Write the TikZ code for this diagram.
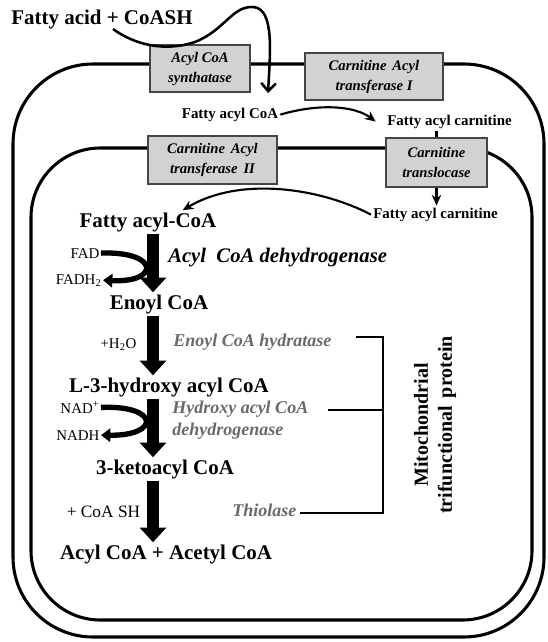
\documentclass[tikz,border=0pt]{standalone}
\usepackage{fontspec}
\setmainfont{Liberation Serif}
\usetikzlibrary{arrows.meta}
\definecolor{enzgray}{RGB}{105,105,105}
\definecolor{boxfill}{RGB}{210,210,210}
\definecolor{boxline}{RGB}{70,70,70}
\begin{document}
\begin{tikzpicture}[x=0.75pt,y=0.75pt,yscale=-1,xscale=1,
	membrane/.style={line width=2.3pt},
	enzbox/.style={draw=boxline,fill=boxfill,line width=1.1pt,align=center,inner sep=0pt,font=\fontsize{11}{15}\selectfont\bfseries\itshape},
	metab/.style={font=\fontsize{15.7}{18}\selectfont\bfseries,inner sep=1.5pt},
	smallmetab/.style={font=\fontsize{11.2}{13}\selectfont\bfseries,inner sep=1.5pt},
	cofac/.style={font=\fontsize{11.2}{13}\selectfont,inner sep=1pt},
	enz/.style={font=\fontsize{13.5}{16.5}\selectfont\bfseries\itshape,text=enzgray,inner sep=0pt,align=left},
	flow/.style={line width=1.6pt,-{Stealth[length=8pt,width=7pt]}},
	bigstep/.style={line width=9pt,-{Triangle[length=11pt,width=19.5pt]}},
	redox/.style={line width=4pt,-{Triangle[length=7pt,width=10pt]}},
	bracket/.style={line width=1.6pt}]
	\useasboundingbox (0,0) rectangle (547,642);
	\draw[membrane,rounded corners=60pt] (13,64) rectangle (544,637);
	\draw[membrane,rounded corners=52pt] (31,148) rectangle (532,620);
	\draw (102,19) node[metab] (substr) {Fatty acid + CoASH};
	\coordinate (plus) at (113,29);
	\coordinate (synthout) at (268,93);
	\coordinate (ax) at (153,0);
	\draw (200,68.5) node[enzbox,minimum width=75pt,minimum height=35.25pt] (synth) {Acyl CoA\\synthatase};
	\draw (374,76.5) node[enzbox,minimum width=103.5pt,minimum height=35.25pt] (cat1) {Carnitine\hspace{0.4em}Acyl\\transferase I};
	\draw (212.5,160) node[enzbox,minimum width=96.75pt,minimum height=36pt] (cat2) {Carnitine\hspace{0.4em}Acyl\\transferase\hspace{0.4em}II};
	\draw (436.5,162.5) node[enzbox,minimum width=75.75pt,minimum height=36.75pt] (trans) {Carnitine\\translocase};
	\draw (230,114.6) node[smallmetab] (fac) {Fatty acyl CoA};
	\draw (449.5,121.6) node[smallmetab] (ucarn) {Fatty acyl carnitine};
	\draw (435.5,214.6) node[smallmetab] (lcarn) {Fatty acyl carnitine};
	\draw (148,222) node[metab] (facoa) {Fatty acyl-CoA};
	\draw (159,304) node[metab] (enoyl) {Enoyl CoA};
	\draw (169,387) node[metab] (hydroxy) {L-3-hydroxy acyl CoA};
	\draw (165,469) node[metab] (keto) {3-ketoacyl CoA};
	\draw (166,554) node[metab] (prod) {Acyl CoA + Acetyl CoA};
	\draw (101,258) node[cofac,anchor=base east] (fad) {FAD};
	\draw (103,284) node[cofac,anchor=base east] (fadh) {FADH\textsubscript{2}};
	\draw (118.5,348) node[cofac,anchor=base] (water) {+H\textsubscript{2}O};
	\draw (101,413) node[cofac,anchor=base east] (nad) {NAD\textsuperscript{+}};
	\draw (101,440) node[cofac,anchor=base east] (nadh) {NADH};
	\draw (103.5,517) node[cofac,anchor=base,font=\fontsize{13}{15}\selectfont] (coash) {+ CoA SH};
	\draw (168,262) node[enz,anchor=base west,text=black,font=\fontsize{15.5}{18}\selectfont\bfseries\itshape] (acd) {Acyl\hspace{0.5em}CoA dehydrogenase};
	\draw (173,346) node[enz,anchor=base west] (hydratase) {Enoyl CoA hydratase};
	\draw (172,420) node[enz,anchor=west] (hadh) {Hydroxy acyl CoA\\dehydrogenase};
	\draw (232,516) node[enz,anchor=base west] (thiol) {Thiolase};
	\draw (435,425) node[rotate=90,align=center,font=\fontsize{15}{18}\selectfont\bfseries] (mtp) {Mitochondrial\\trifunctional\hspace{0.4em}protein};
	\draw[line width=1.9pt,-{Straight Barb[length=6pt,width=11pt]}] (plus) .. controls (135,45) and (165,52) .. (195,42) .. controls (225,30) and (232,6) .. (253,7) .. controls (275,8) and (270,55) .. (synthout);
	\draw[flow] (fac.east) .. controls (320,103) and (355,106) .. ([xshift=-7pt]ucarn.west);
	\draw[line width=1.6pt] (ucarn.south -| trans.north) -- (trans.north);
	\draw[flow] (trans.south) -- (lcarn.north -| trans.south);
	\draw[flow] (lcarn.west) .. controls (320,188) and (240,176) .. ([xshift=26pt]facoa.north);
	\draw[bigstep] (facoa.south -| ax) -- (enoyl.north -| ax);
	\draw[bigstep] (enoyl.south -| ax) -- (hydroxy.north -| ax);
	\draw[bigstep] (hydroxy.south -| ax) -- (keto.north -| ax);
	\draw[bigstep] (keto.south -| ax) -- (prod.north -| ax);
	\draw[redox] (fad.east) .. controls (160,251) and (160,283) .. (fadh.east);
	\draw[redox] (nad.east) .. controls (160,405) and (160,436) .. (nadh.east);
	\draw[bracket] (356,337) -- (383,337) -- (383,513) -- (300,513);
	\draw[bracket] (328,410) -- (383,410);
\end{tikzpicture}
\end{document}
